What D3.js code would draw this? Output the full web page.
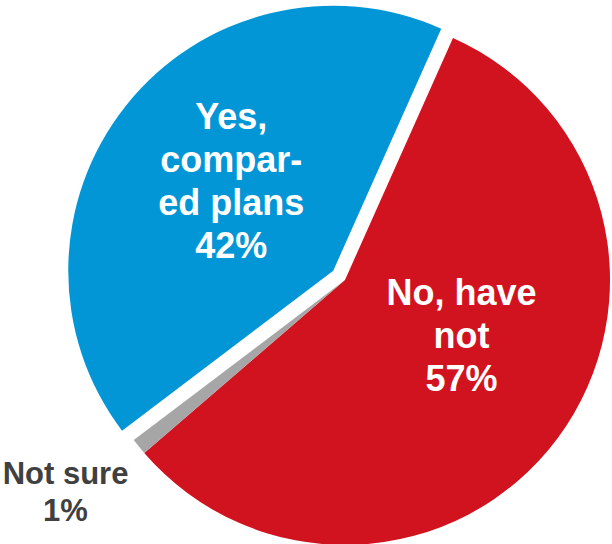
<!DOCTYPE html>
<html>
<head>
<meta charset="utf-8">
<script src="https://cdn.jsdelivr.net/npm/d3@7/dist/d3.min.js"></script>
<style>
  html, body { margin: 0; padding: 0; background: #ffffff; }
  svg { display: block; }
  text { font-family: "Liberation Sans", Arial, Helvetica, sans-serif; font-weight: bold; }
</style>
</head>
<body>
<svg id="chart" width="612" height="544"></svg>
<script>
// Survey answers, in drawing order (clockwise)
const categories = ["No, have not", "Not sure", "Yes, compared plans"];
const shares = [57, 1, 42];
const labelLines = [
  ["No, have", "not", "57%"],
  ["Not sure", "1%"],
  ["Yes,", "compar-", "ed plans", "42%"]
];
const colors = ["#D1121F", "#A6A6A6", "#0396D6"];

const svg = d3.select("#chart");
const cx = 345, cy = 280, R = 265;
const firstAngle = 24.05 * Math.PI / 180;

const pie = d3.pie().sort(null).value(d => d)
  .startAngle(firstAngle).endAngle(firstAngle + 2 * Math.PI);
const arcs = pie(shares);

const arc = d3.arc().innerRadius(0).outerRadius(R);

// The "Yes" slice is pulled out from the centre
const explode = [0, 0, 15];

const g = svg.append("g").attr("transform", `translate(${cx},${cy})`);

function dirOf(a) {
  const m = (a.startAngle + a.endAngle) / 2;
  return [Math.sin(m), -Math.cos(m)];
}

g.selectAll("path.slice")
  .data(arcs)
  .join("path")
  .attr("class", "slice")
  .attr("d", arc)
  .attr("fill", (d, i) => colors[i])
  .attr("transform", (d, i) => {
    const [ux, uy] = dirOf(d);
    return `translate(${ux * explode[i]},${uy * explode[i]})`;
  });

// Label placement: angle offset (deg) from slice middle and radius
const labelPlace = [
  { dAngle: -11.3, r: 129, size: 36, lh: 42.8, fill: "#ffffff" },
  { outside: true, x: -279.5, y: 211, size: 31, lh: 36.7, fill: "#404040" },
  { dAngle: 3.0, r: 136, size: 36, lh: 42.8, fill: "#ffffff" }
];

arcs.forEach((d, i) => {
  const p = labelPlace[i];
  let lx, ly;
  if (p.outside) {
    lx = p.x; ly = p.y;
  } else {
    const m = (d.startAngle + d.endAngle) / 2 + p.dAngle * Math.PI / 180;
    const [ux, uy] = dirOf(d);
    lx = Math.sin(m) * p.r + ux * explode[i];
    ly = -Math.cos(m) * p.r + uy * explode[i];
  }
  const lines = labelLines[i];
  const n = lines.length;
  const t = g.append("text")
    .attr("text-anchor", "middle")
    .attr("font-size", p.size)
    .attr("fill", p.fill);
  lines.forEach((ln, k) => {
    t.append("tspan")
      .attr("x", lx)
      .attr("y", ly + (k - (n - 1) / 2) * p.lh + p.size * 0.36)
      .text(ln);
  });
});
</script>
</body>
</html>
